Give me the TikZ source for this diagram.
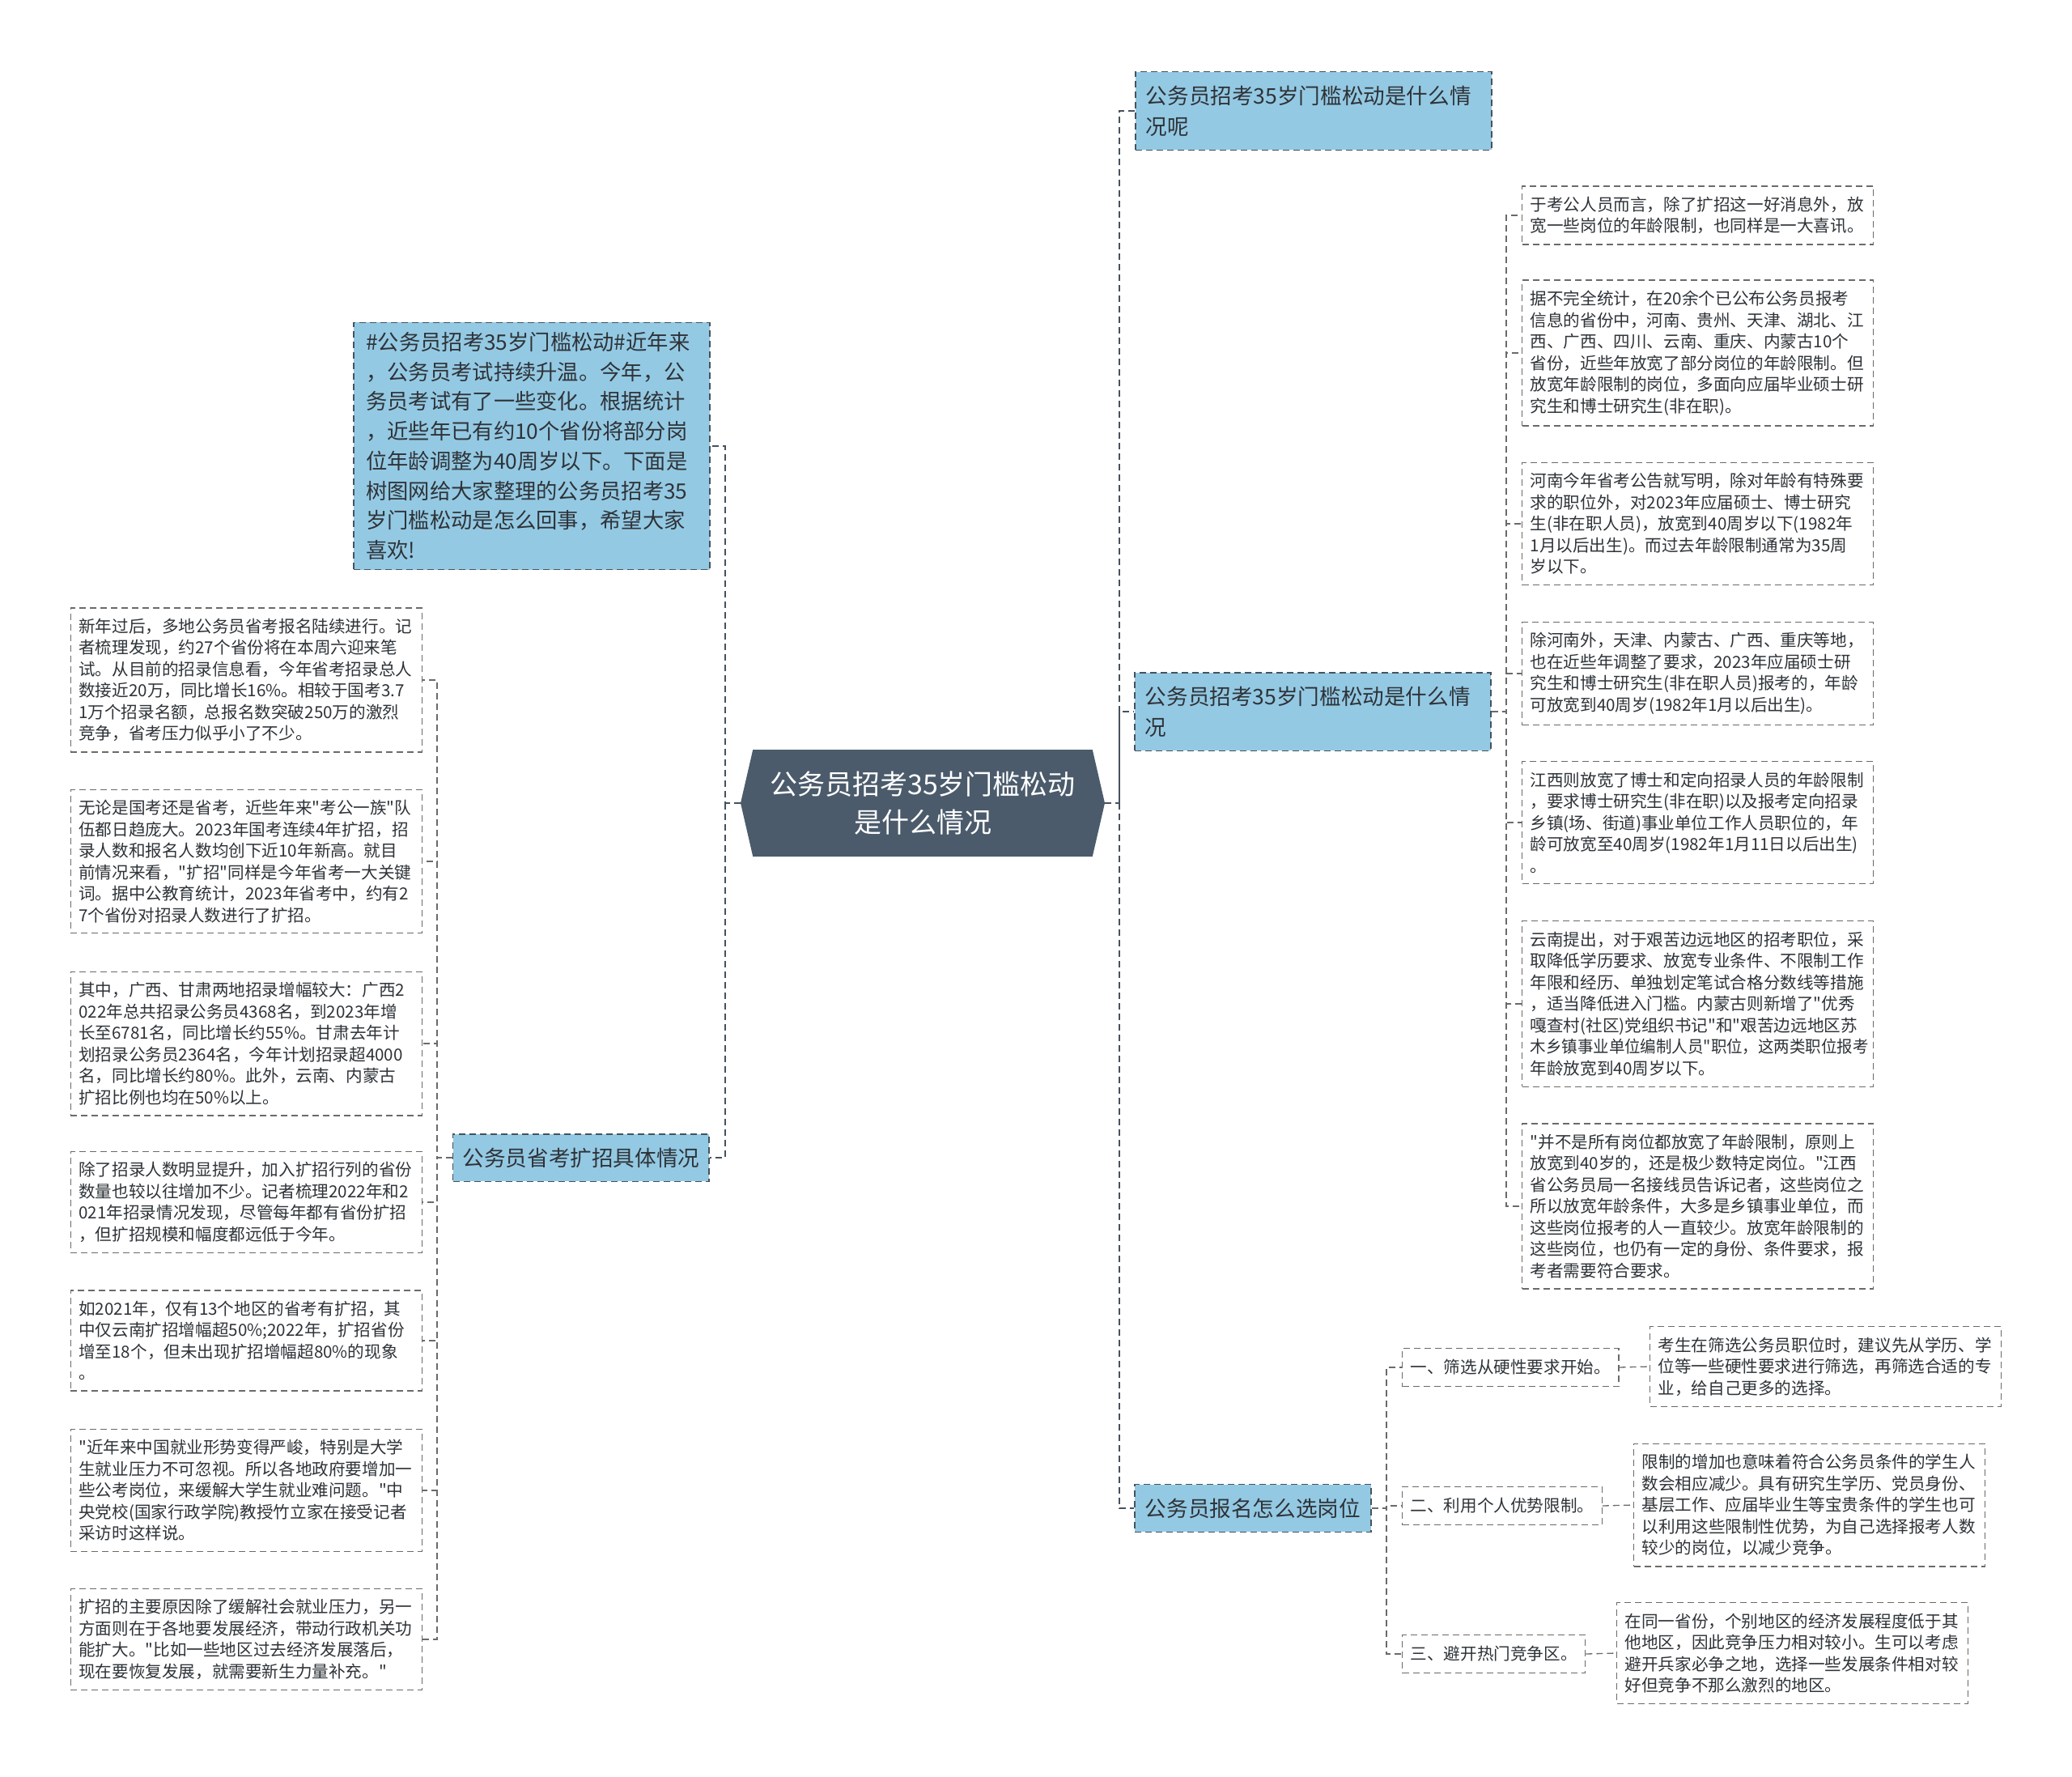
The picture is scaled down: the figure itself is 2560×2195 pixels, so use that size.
\documentclass[tikz,border=0pt]{standalone}
\usepackage{fontspec}
\setmainfont{Noto Sans CJK SC}[Ligatures=TeXOff]
\usetikzlibrary{shapes.symbols}

\definecolor{topicblue}{HTML}{94C9E3}
\definecolor{rootslate}{HTML}{4B5B6B}
\definecolor{trunkdark}{HTML}{46525D}
\definecolor{leafgray}{HTML}{6A6A6A}
\definecolor{inkdark}{HTML}{2E3338}

\tikzset{
  rootbox/.style={shape=signal, signal to=west and east, signal pointer angle=154,
    fill=rootslate, text=white, align=center, minimum width=450pt,
    minimum height=132pt, inner xsep=4pt,
    font=\fontsize{34}{47}\selectfont},
  topicbox/.style={draw=trunkdark, line width=1.6pt, dash pattern=on 8pt off 5pt,
    fill=topicblue, text=inkdark, align=left, inner xsep=13pt, inner ysep=17pt,
    font=\fontsize{26.6}{38}\selectfont},
  leafbox/.style={draw=leafgray, line width=1.3pt, dash pattern=on 8pt off 5pt,
    fill=white, text=inkdark, text width=414pt, align=left,
    inner xsep=10pt, inner ysep=13pt, font=\fontsize{20.6}{26.5}\selectfont},
  subbox/.style={draw=leafgray, line width=1.3pt, dash pattern=on 8pt off 5pt,
    fill=white, text=inkdark, inner xsep=10pt, inner ysep=14pt,
    font=\fontsize{20.6}{26.5}\selectfont},
  link/.style={draw=trunkdark, line width=1.8pt, dash pattern=on 8pt off 5pt},
  leaflink/.style={draw=leafgray, line width=1.3pt, dash pattern=on 8pt off 5pt},
}

\begin{document}
\begin{tikzpicture}[x=1pt,y=-1pt]
  \useasboundingbox[fill=white] (0,0) rectangle (2560,2195);

  % centre
  \node[rootbox] (root) at (1140,992) {公务员招考35岁门槛松动\\是什么情况};

  % left topics
  \node[topicbox, anchor=east, text width=410pt, inner xsep=15pt, inner ysep=12pt,
    font=\fontsize{26.3}{36.7}\selectfont] (intro) at (878,551)
    {\#公务员招考35岁门槛松动\#近年来\\
     ，公务员考试持续升温。今年，公\\
     务员考试有了一些变化。根据统计\\
     ，近些年已有约10个省份将部分岗\\
     位年龄调整为40周岁以下。下面是\\
     树图网给大家整理的公务员招考35\\
     岁门槛松动是怎么回事，希望大家\\
     喜欢!};
  \node[topicbox, anchor=east, inner xsep=12pt] (shengkao) at (877,1430)
    {公务员省考扩招具体情况};

  % left leaves
  \node[leafbox, anchor=east] (sk1) at (522,840)
    {新年过后，多地公务员省考报名陆续进行。记\\
     者梳理发现，约27个省份将在本周六迎来笔\\
     试。从目前的招录信息看，今年省考招录总人\\
     数接近20万，同比增长16\%。相较于国考3.7\\
     1万个招录名额，总报名数突破250万的激烈\\
     竞争，省考压力似乎小了不少。};
  \node[leafbox, anchor=east] (sk2) at (522,1064)
    {无论是国考还是省考，近些年来"考公一族"队\\
     伍都日趋庞大。2023年国考连续4年扩招，招\\
     录人数和报名人数均创下近10年新高。就目\\
     前情况来看，"扩招"同样是今年省考一大关键\\
     词。据中公教育统计，2023年省考中，约有2\\
     7个省份对招录人数进行了扩招。};
  \node[leafbox, anchor=east] (sk3) at (522,1289)
    {其中，广西、甘肃两地招录增幅较大：广西2\\
     022年总共招录公务员4368名，到2023年增\\
     长至6781名，同比增长约55\%。甘肃去年计\\
     划招录公务员2364名，今年计划招录超4000\\
     名，同比增长约80\%。此外，云南、内蒙古\\
     扩招比例也均在50\%以上。};
  \node[leafbox, anchor=east] (sk4) at (522,1485)
    {除了招录人数明显提升，加入扩招行列的省份\\
     数量也较以往增加不少。记者梳理2022年和2\\
     021年招录情况发现，尽管每年都有省份扩招\\
     ，但扩招规模和幅度都远低于今年。};
  \node[leafbox, anchor=east] (sk5) at (522,1656)
    {如2021年，仅有13个地区的省考有扩招，其\\
     中仅云南扩招增幅超50\%;2022年，扩招省份\\
     增至18个，但未出现扩招增幅超80\%的现象\\
     。};
  \node[leafbox, anchor=east] (sk6) at (522,1841)
    {"近年来中国就业形势变得严峻，特别是大学\\
     生就业压力不可忽视。所以各地政府要增加一\\
     些公考岗位，来缓解大学生就业难问题。"中\\
     央党校(国家行政学院)教授竹立家在接受记者\\
     采访时这样说。};
  \node[leafbox, anchor=east] (sk7) at (522,2025)
    {扩招的主要原因除了缓解社会就业压力，另一\\
     方面则在于各地要发展经济，带动行政机关功\\
     能扩大。"比如一些地区过去经济发展落后，\\
     现在要恢复发展，就需要新生力量补充。"};

  % right topics
  \node[topicbox, anchor=west, text width=414pt] (ask) at (1402,137)
    {公务员招考35岁门槛松动是什么情\\况呢};
  \node[topicbox, anchor=west, text width=414pt] (detail) at (1401,879)
    {公务员招考35岁门槛松动是什么情\\况};
  \node[topicbox, anchor=west] (choose) at (1401,1863)
    {公务员报名怎么选岗位};

  % right leaves
  \node[leafbox, anchor=west] (age1) at (1880,266)
    {于考公人员而言，除了扩招这一好消息外，放\\
     宽一些岗位的年龄限制，也同样是一大喜讯。};
  \node[leafbox, anchor=west] (age2) at (1880,436)
    {据不完全统计，在20余个已公布公务员报考\\
     信息的省份中，河南、贵州、天津、湖北、江\\
     西、广西、四川、云南、重庆、内蒙古10个\\
     省份，近些年放宽了部分岗位的年龄限制。但\\
     放宽年龄限制的岗位，多面向应届毕业硕士研\\
     究生和博士研究生(非在职)。};
  \node[leafbox, anchor=west] (age3) at (1880,647)
    {河南今年省考公告就写明，除对年龄有特殊要\\
     求的职位外，对2023年应届硕士、博士研究\\
     生(非在职人员)，放宽到40周岁以下(1982年\\
     1月以后出生)。而过去年龄限制通常为35周\\
     岁以下。};
  \node[leafbox, anchor=west] (age4) at (1880,832)
    {除河南外，天津、内蒙古、广西、重庆等地，\\
     也在近些年调整了要求，2023年应届硕士研\\
     究生和博士研究生(非在职人员)报考的，年龄\\
     可放宽到40周岁(1982年1月以后出生)。};
  \node[leafbox, anchor=west] (age5) at (1880,1016)
    {江西则放宽了博士和定向招录人员的年龄限制\\
     ，要求博士研究生(非在职)以及报考定向招录\\
     乡镇(场、街道)事业单位工作人员职位的，年\\
     龄可放宽至40周岁(1982年1月11日以后出生)\\
     。};
  \node[leafbox, anchor=west] (age6) at (1880,1240)
    {云南提出，对于艰苦边远地区的招考职位，采\\
     取降低学历要求、放宽专业条件、不限制工作\\
     年限和经历、单独划定笔试合格分数线等措施\\
     ，适当降低进入门槛。内蒙古则新增了"优秀\\
     嘎查村(社区)党组织书记"和"艰苦边远地区苏\\
     \scalebox{0.945}[1]{木乡镇事业单位编制人员"职位，这两类职位报考}\\
     年龄放宽到40周岁以下。};
  \node[leafbox, anchor=west] (age7) at (1880,1490)
    {"并不是所有岗位都放宽了年龄限制，原则上\\
     放宽到40岁的，还是极少数特定岗位。"江西\\
     省公务员局一名接线员告诉记者，这些岗位之\\
     所以放宽年龄条件，大多是乡镇事业单位，而\\
     这些岗位报考的人一直较少。放宽年龄限制的\\
     这些岗位，也仍有一定的身份、条件要求，报\\
     考者需要符合要求。};

  % choosing a post
  \node[subbox, anchor=west] (tip1) at (1732,1689) {一、筛选从硬性要求开始。};
  \node[subbox, anchor=west] (tip2) at (1732,1860) {二、利用个人优势限制。};
  \node[subbox, anchor=west] (tip3) at (1732,2043) {三、避开热门竞争区。};
  \node[leafbox, anchor=west] (tip1x) at (2038,1688)
    {考生在筛选公务员职位时，建议先从学历、学\\
     位等一些硬性要求进行筛选，再筛选合适的专\\
     业，给自己更多的选择。};
  \node[leafbox, anchor=west] (tip2x) at (2018,1859)
    {限制的增加也意味着符合公务员条件的学生人\\
     数会相应减少。具有研究生学历、党员身份、\\
     基层工作、应届毕业生等宝贵条件的学生也可\\
     以利用这些限制性优势，为自己选择报考人数\\
     较少的岗位，以减少竞争。};
  \node[leafbox, anchor=west] (tip3x) at (1997,2042)
    {在同一省份，个别地区的经济发展程度低于其\\
     他地区，因此竞争压力相对较小。生可以考虑\\
     避开兵家必争之地，选择一些发展条件相对较\\
     好但竞争不那么激烈的地区。};

  % hubs
  \coordinate (lhub) at (896,992);
  \coordinate (rhub) at (1383,992);
  \coordinate (skhub) at (540,1430);
  \coordinate (dethub) at (1861,879);
  \coordinate (chhub) at (1713,1863);

  % links
  \draw[link] (root.west) -- (lhub) |- (intro.east);
  \draw[link] (lhub) |- (shengkao.east);
  \draw[link] (root.east) -- (rhub) |- (ask.west);
  \draw[link] (rhub) |- (detail.west);
  \draw[link] (rhub) |- (choose.west);
  \foreach \leaf in {sk1,sk2,sk3,sk4,sk5,sk6,sk7}
    \draw[leaflink] (shengkao.west) -- (skhub) |- (\leaf.east);
  \foreach \leaf in {age1,age2,age3,age4,age5,age6,age7}
    \draw[leaflink] (detail.east) -- (dethub) |- (\leaf.west);
  \foreach \leaf in {tip1,tip2,tip3}
    \draw[leaflink] (choose.east) -- (chhub) |- (\leaf.west);
  \draw[leaflink] (tip1.east) -- (tip1x.west);
  \draw[leaflink] (tip2.east) -- (tip2x.west);
  \draw[leaflink] (tip3.east) -- (tip3x.west);
\end{tikzpicture}
\end{document}
